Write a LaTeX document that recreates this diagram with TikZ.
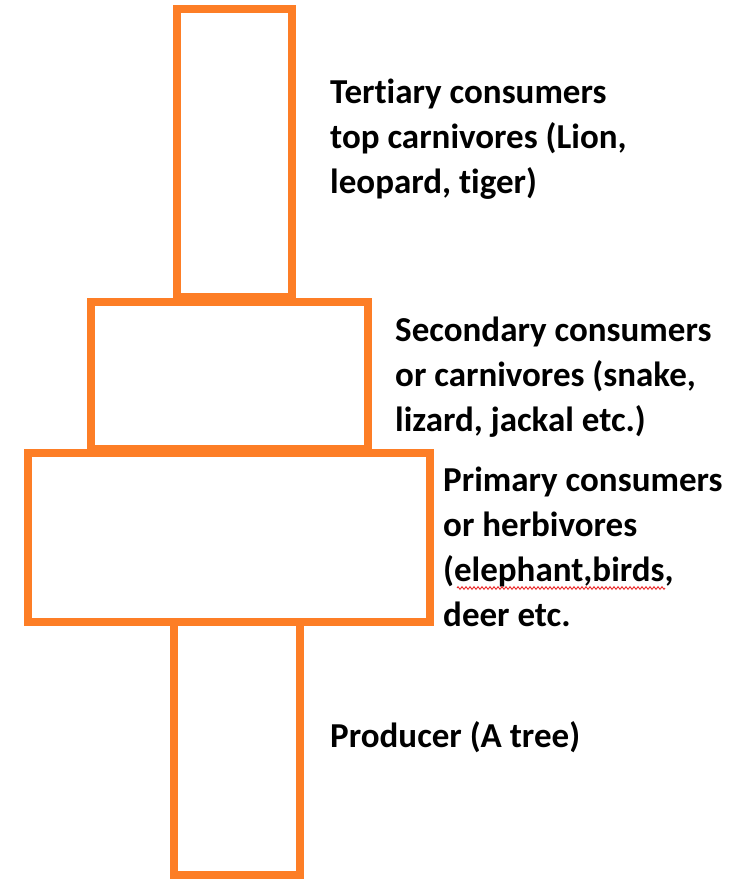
\documentclass[tikz,border=0pt]{standalone}
\usepackage{fontspec}
\setmainfont{Carlito}[Ligatures=NoCommon]
\usetikzlibrary{decorations.pathmorphing}
\definecolor{tierorange}{RGB}{253,126,38}
\definecolor{spellred}{RGB}{235,40,40}
\begin{document}
\begin{tikzpicture}[x=1pt,y=-1pt,
  tier/.style={draw=tierorange,line width=7.5pt,fill=white},
  label/.style={anchor=base west,inner sep=0pt,align=left,
    font=\fontsize{35}{45}\selectfont\bfseries}]
\useasboundingbox[fill=white] (0,0) rectangle (747,880);
% trophic levels, drawn bottom to top so the upper edges sit on top
\draw[tier] (174,622) rectangle (300,875);
\draw[tier] (28,453) rectangle (430,622);
\draw[tier] (91,302) rectangle (368,449);
\draw[tier] (177,9) rectangle (292,297);
% level descriptions (anchored at the baseline of their last line)
\node[label] (tert) at (330,193) {Tertiary consumers\\top carnivores (Lion,\\leopard, tiger)};
\node[label] (sec) at (395,431) {Secondary consumers\\or carnivores (snake,\\lizard, jackal etc.)};
\node[label] (prim) at (443,626) {Primary consumers\\or herbivores\\(elephant,birds,\\deer etc.};
\node[label] (prod) at (330,747) {Producer (A tree)};
% spelling squiggle under "elephant,birds"
\draw[spellred,line width=0.9pt,decorate,
  decoration={zigzag,segment length=4pt,amplitude=1.3pt}] (457,588) -- (665,588);
\end{tikzpicture}
\end{document}
